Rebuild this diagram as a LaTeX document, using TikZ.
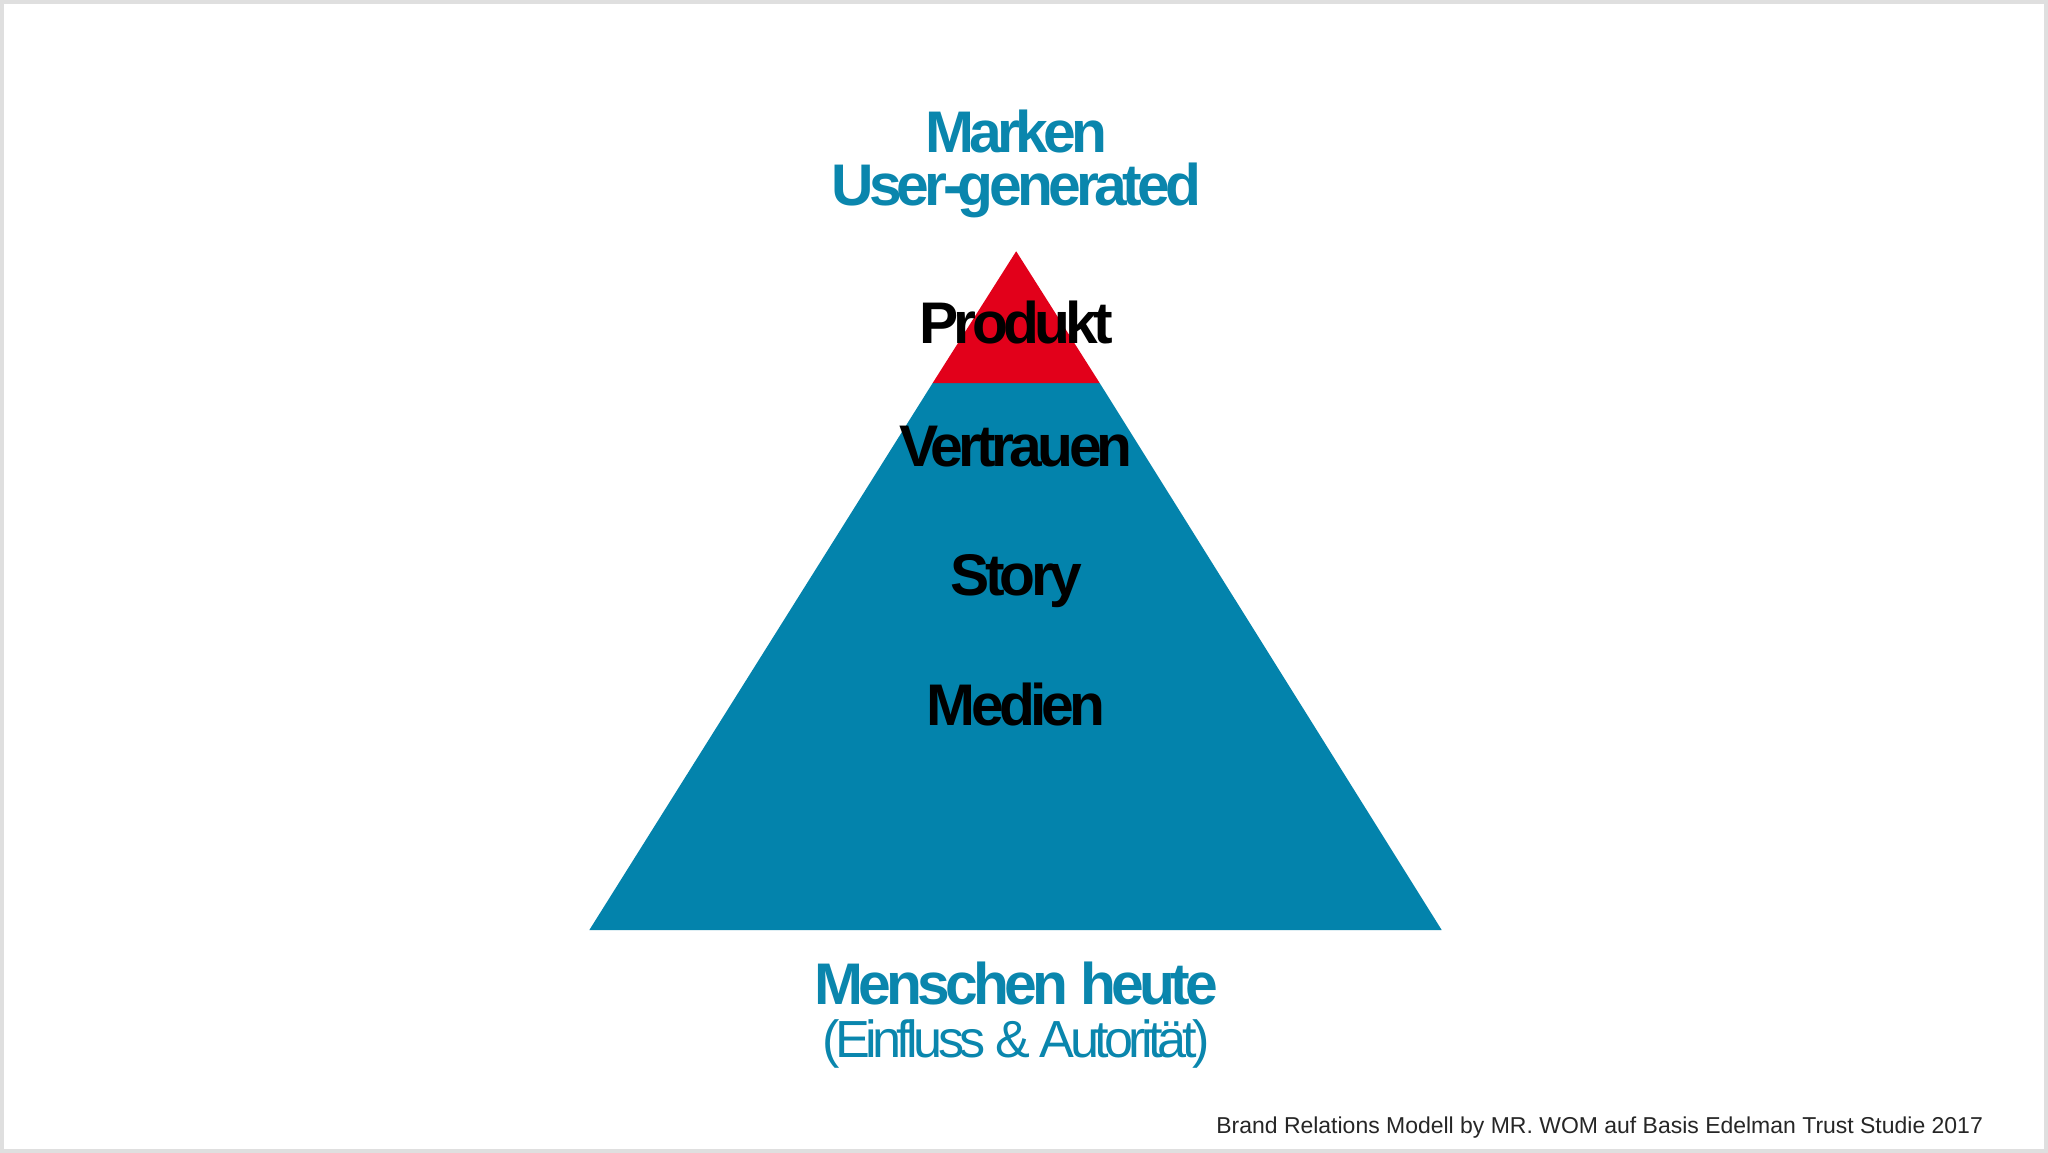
\documentclass[tikz,border=0pt]{standalone}
\usepackage{fontspec}
\setmainfont{Liberation Sans}
\newfontfamily\tight[LetterSpace=-8]{Liberation Sans}
\newfontfamily\tighter[LetterSpace=-9]{Liberation Sans}
\definecolor{teal1}{HTML}{0383AC}
\definecolor{title}{HTML}{0A86AD}
\definecolor{redtop}{HTML}{E2001A}
\tikzset{x=0.5pt,y=-0.5pt,
 big/.style={font=\tight\bfseries\fontsize{22.5}{24}\selectfont,inner sep=0,anchor=base},
 tt/.style={big,text=title},
 lbl/.style={big,text=black}}
\begin{document}
\begin{tikzpicture}
\fill[white] (0,0) rectangle (1568,882);
\draw[gray!25,line width=1.5pt] (1,1) rectangle (1567,881);
\coordinate (apex) at (778,192);
\coordinate (bl) at (451,712);
\coordinate (br) at (1104,712);
\coordinate (ml) at (714,293);
\coordinate (mr) at (842,293);
\fill[teal1] (ml) -- (mr) -- (br) -- (bl) -- cycle;
\fill[redtop] (apex) -- (mr) -- (ml) -- cycle;
\node[tt] (m) at (778,116) {Marken};
\node[tt] (u) at (778,157) {User-generated};
\node[lbl] (p) at (778,263) {Produkt};
\node[lbl] (v) at (778,357) {Vertrauen};
\node[lbl] (s) at (778,456) {Story};
\node[lbl] (me) at (778,555) {Medien};
\node[tt] (mh) at (778,769) {Menschen heute};
\node[tt,font=\tighter\fontsize{20}{22}\selectfont] (ea) at (778,810) {(Einfluss \& Autorität)};
\node[anchor=base east,inner sep=0,text=black!85,font=\fontsize{8.8}{10}\selectfont] (f) at (1519,868) {Brand Relations Modell by MR. WOM auf Basis Edelman Trust Studie 2017};
\end{tikzpicture}
\end{document}
